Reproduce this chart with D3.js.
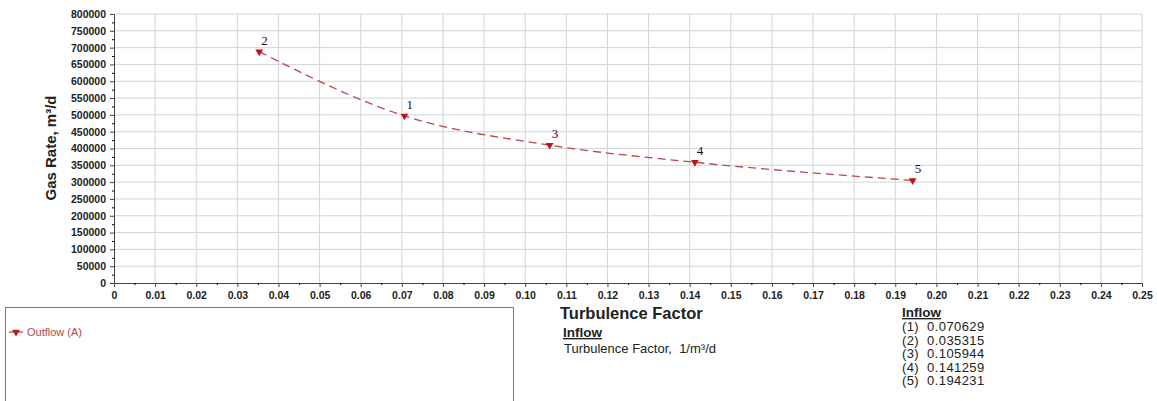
<!DOCTYPE html>
<html>
<head>
<meta charset="utf-8">
<script src="https://cdn.jsdelivr.net/npm/d3@7"></script>
<style>
  body { margin: 0; background: #fff; }
  svg { display: block; }
  text { white-space: pre; }
</style>
</head>
<body>
<div id="chart"></div>
<script>
// inflow points, in the order they are numbered
var pointIds = ["1", "2", "3", "4", "5"];
var turbulence = [0.070629, 0.035315, 0.105944, 0.141259, 0.194231];
var gasRate = [497000, 688000, 410000, 359000, 305000];

var xTicks = d3.range(0, 0.2501, 0.01);
var yTicks = d3.range(0, 800001, 50000);

var width = 1157;
var height = 401;
const margin = { top: 14, left: 114, right: 15, bottom: 118 };

var svg = d3
  .select("#chart")
  .append("svg")
  .attr("width", width)
  .attr("height", height)
  .style("font-family", "Liberation Sans, Arial, sans-serif");

var x = d3.scaleLinear().domain([0, 0.25]).range([margin.left, 1142]);
var y = d3.scaleLinear().domain([0, 800000]).range([283, margin.top]);

// grid
svg
  .append("g")
  .selectAll("line")
  .data(xTicks.slice(1))
  .enter()
  .append("line")
  .attr("x1", d => x(d))
  .attr("x2", d => x(d))
  .attr("y1", y(0))
  .attr("y2", y(800000))
  .attr("stroke", "#d4d4d4");

svg
  .append("g")
  .selectAll("line")
  .data(yTicks.slice(1))
  .enter()
  .append("line")
  .attr("x1", x(0))
  .attr("x2", x(0.25))
  .attr("y1", d => y(d))
  .attr("y2", d => y(d))
  .attr("stroke", "#d4d4d4");

// axes
var xAxis = svg
  .append("g")
  .attr("transform", `translate(0, ${y(0)})`)
  .call(
    d3.axisBottom(x)
      .tickValues(xTicks)
      .tickSize(4)
      .tickFormat((d, i) => (i === 0 ? "0" : d3.format(".2f")(d)))
  );
svg
  .append("g")
  .attr("transform", `translate(0, ${y(0)})`)
  .call(d3.axisBottom(x).tickValues(d3.range(0.005, 0.25, 0.01)).tickSize(2).tickFormat(""))
  .select(".domain")
  .remove();

var yAxis = svg
  .append("g")
  .attr("transform", `translate(${x(0)}, 0)`)
  .call(d3.axisLeft(y).tickValues(yTicks).tickSize(4).tickFormat(d3.format("d")));
svg
  .append("g")
  .attr("transform", `translate(${x(0)}, 0)`)
  .call(d3.axisLeft(y).tickValues(d3.range(25000, 800000, 50000)).tickSize(2).tickFormat(""))
  .select(".domain")
  .remove();

[xAxis, yAxis].forEach(a => {
  a.selectAll("text")
    .attr("font-size", "10.5px")
    .attr("font-weight", "bold")
    .attr("fill", "#222");
  a.selectAll("path, line").attr("stroke", "#444");
});
xAxis.selectAll("text").attr("dy", "0.9em");
yAxis.selectAll("text").attr("dx", "-1px");

svg
  .append("text")
  .attr("transform", "translate(56, 148) rotate(-90)")
  .attr("text-anchor", "middle")
  .attr("font-size", "15px")
  .attr("font-weight", "bold")
  .attr("fill", "#222")
  .text("Gas Rate, m³/d");

// series
var pts = turbulence
  .map((t, i) => ({ id: pointIds[i], x: t, y: gasRate[i] }))
  .sort((a, b) => a.x - b.x);

var line = d3
  .line()
  .x(d => x(d.x))
  .y(d => y(d.y))
  .curve(d3.curveMonotoneX);

svg
  .append("path")
  .datum(pts)
  .attr("d", line)
  .attr("fill", "none")
  .attr("stroke", "#b5484a")
  .attr("stroke-width", 1.3)
  .attr("stroke-dasharray", "8,5");

var tri = d3.symbol().type(d3.symbolTriangle).size(26);

svg
  .append("g")
  .selectAll("path")
  .data(pts)
  .enter()
  .append("path")
  .attr("d", tri)
  .attr("transform", d => `translate(${x(d.x)}, ${y(d.y)}) rotate(180)`)
  .attr("fill", "#c0141c");

svg
  .append("g")
  .selectAll("text")
  .data(pts)
  .enter()
  .append("text")
  .attr("x", d => x(d.x) + 2)
  .attr("y", d => y(d.y) - 7)
  .attr("font-family", "Liberation Serif, Times New Roman, serif")
  .attr("font-size", "13px")
  .attr("fill", "#111")
  .text(d => d.id);

// legend box
svg
  .append("rect")
  .attr("x", 5.5)
  .attr("y", 307.5)
  .attr("width", 508)
  .attr("height", 110)
  .attr("fill", "none")
  .attr("stroke", "#777");

svg
  .append("line")
  .attr("x1", 9)
  .attr("x2", 23)
  .attr("y1", 332)
  .attr("y2", 332)
  .attr("stroke", "#b5484a")
  .attr("stroke-width", 1.3);
svg
  .append("path")
  .attr("d", tri)
  .attr("transform", "translate(16, 332) rotate(180)")
  .attr("fill", "#c0141c");
svg
  .append("text")
  .attr("x", 27)
  .attr("y", 336)
  .attr("font-size", "11px")
  .attr("fill", "#b5484a")
  .text("Outflow (A)");

// info block
svg
  .append("text")
  .attr("x", 560)
  .attr("y", 319)
  .attr("font-size", "16.5px")
  .attr("font-weight", "bold")
  .attr("fill", "#222")
  .text("Turbulence Factor");
svg
  .append("text")
  .attr("x", 563)
  .attr("y", 337)
  .attr("font-size", "13.5px")
  .attr("font-weight", "bold")
  .attr("text-decoration", "underline")
  .attr("fill", "#222")
  .text("Inflow");
svg
  .append("text")
  .attr("x", 564)
  .attr("y", 353)
  .attr("font-size", "13px")
  .attr("fill", "#222")
  .text("Turbulence Factor,  1/m³/d");

svg
  .append("text")
  .attr("x", 902)
  .attr("y", 317)
  .attr("font-size", "13.5px")
  .attr("font-weight", "bold")
  .attr("text-decoration", "underline")
  .attr("fill", "#222")
  .text("Inflow");
svg
  .append("g")
  .selectAll("text")
  .data(pointIds)
  .enter()
  .append("text")
  .attr("x", 902)
  .attr("y", (d, i) => 331 + i * 13.6)
  .attr("font-size", "13px")
  .attr("letter-spacing", "0.4px")
  .attr("fill", "#222")
  .text((d, i) => `(${d})  ${turbulence[i]}`);
</script>
</body>
</html>
